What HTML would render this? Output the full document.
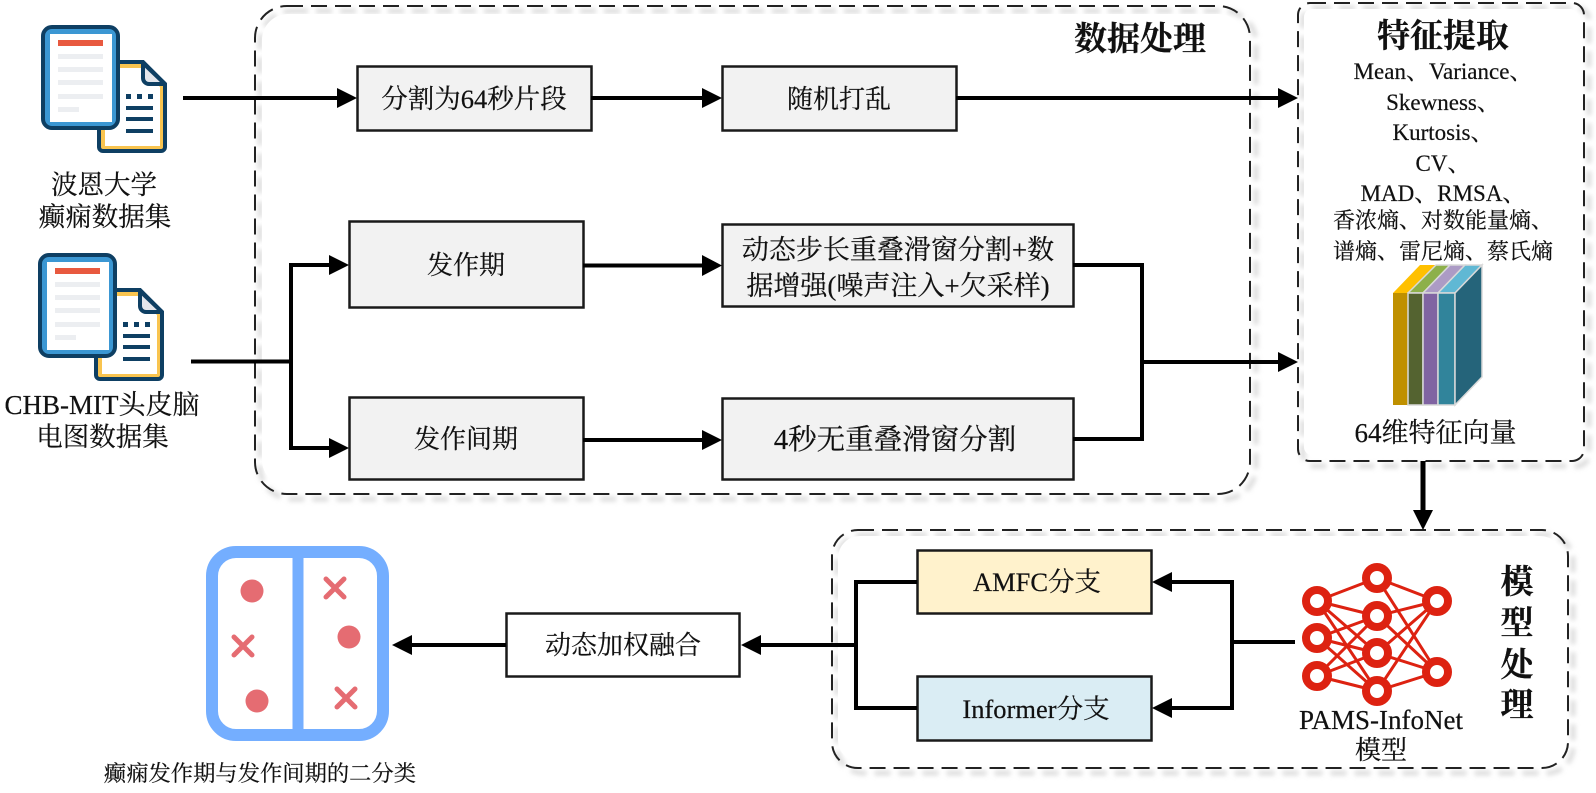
<!DOCTYPE html>
<html><head><meta charset="utf-8"><style>
html,body{margin:0;padding:0;background:#fff;width:1596px;height:793px;overflow:hidden}
svg{display:block}
text{font-family:"Liberation Serif","Noto Serif CJK SC",serif;fill:#111;stroke:#111;stroke-width:.2;text-anchor:middle;font-size:26px}
.h{font-size:33px;font-weight:700}
.f{font-size:22px}
.fl{font-size:23px}
.b{stroke:#1a1a1a;stroke-width:2.500}
.l{fill:none;stroke:#000;stroke-width:4}
.d{fill:none;stroke:#222;stroke-width:2;stroke-dasharray:16 8}
.s{fill:none;stroke:#bbb;stroke-width:5;stroke-dasharray:16 8;filter:url(#bl);opacity:.5}
</style></head><body>
<svg width="1596" height="793" viewBox="0 0 1596 793" xmlns="http://www.w3.org/2000/svg">
<defs>
<filter id="bl"><feGaussianBlur stdDeviation="2.5"/></filter>
<g id="doc">
<path d="M103 62H143L165 84V147a4 4 0 0 1-4 4H103a4 4 0 0 1-4-4V67a4 4 0 0 1 4-4Z" fill="#f9c44f" stroke="#0e3f63" stroke-width="4"/>
<path d="M105 68H141L160 87V146H105Z" fill="#fff"/>
<path d="M143 63V78a6 6 0 0 0 6 6H165Z" fill="#e3e6ec" stroke="#0e3f63" stroke-width="4" stroke-linejoin="round"/>
<rect x="126" y="94" width="5" height="5" fill="#0e3f63"/><rect x="137" y="94" width="5" height="5" fill="#0e3f63"/><rect x="148" y="94" width="5" height="5" fill="#0e3f63"/>
<rect x="126" y="106" width="27" height="4" fill="#0e3f63"/><rect x="126" y="117" width="27" height="4" fill="#0e3f63"/><rect x="126" y="129" width="27" height="4" fill="#0e3f63"/>
<rect x="43" y="27" width="75" height="101" rx="9" fill="#3b97d3" stroke="#0e3f63" stroke-width="4"/>
<rect x="50" y="34" width="62" height="88" fill="#fff"/>
<rect x="58" y="40" width="45" height="6" fill="#e8593f"/>
<rect x="58" y="54" width="45" height="5" fill="#eceef1"/><rect x="58" y="67" width="45" height="5" fill="#eceef1"/><rect x="58" y="80" width="45" height="5" fill="#eceef1"/><rect x="58" y="94" width="45" height="5" fill="#eceef1"/><rect x="58" y="107" width="21" height="5" fill="#eceef1"/>
</g>
</defs>

<!-- dashed shadows -->
<rect class="s" x="260" y="11" width="996" height="488" rx="32"/>
<rect class="s" x="1303" y="8" width="286" height="458" rx="12"/>
<rect class="s" x="837" y="535" width="736" height="238" rx="26"/>
<rect fill="#fff" x="262" y="14" width="982" height="472" rx="26"/>
<rect fill="#fff" x="1304" y="9" width="274" height="446" rx="8"/>
<rect fill="#fff" x="838" y="536" width="724" height="226" rx="22"/>
<rect class="d" x="255" y="6" width="995" height="488" rx="32"/>
<rect class="d" x="1298" y="3" width="286" height="458" rx="12"/>
<rect class="d" x="832" y="530" width="736" height="238" rx="26"/>

<use href="#doc"/>
<use href="#doc" transform="translate(-3 228)"/>
<text x="104" y="194" style="font-size:26.500px">波恩大学</text>
<text x="105" y="226" style="font-size:26.500px">癫痫数据集</text>
<text x="102" y="414" style="font-size:27px">CHB-MIT头皮脑</text>
<text x="102.500" y="446" style="font-size:26.500px">电图数据集</text>

<!-- boxes -->
<g class="b">
<rect x="357.500" y="66.500" width="234" height="64" fill="#f2f2f2"/>
<rect x="722.500" y="66.500" width="234" height="64" fill="#f2f2f2"/>
<rect x="349.500" y="221.500" width="234" height="86" fill="#f2f2f2"/>
<rect x="722.500" y="224.500" width="351" height="82" fill="#f2f2f2"/>
<rect x="349.500" y="397.500" width="234" height="82" fill="#f2f2f2"/>
<rect x="722.500" y="398.500" width="351" height="81" fill="#f2f2f2"/>
<rect x="917.500" y="550.500" width="234" height="63" fill="#fff2cc"/>
<rect x="917.500" y="676.500" width="234" height="64" fill="#daedf4"/>
<rect x="506.500" y="613.500" width="233" height="63" fill="#fff"/>
</g>
<text x="474" y="108" style="font-size:26.500px">分割为64秒片段</text>
<text x="839" y="108">随机打乱</text>
<text x="466" y="274">发作期</text>
<text x="898" y="259" style="font-size:27px">动态步长重叠滑窗分割+数</text>
<text x="898" y="295" style="font-size:27px">据增强(噪声注入+欠采样)</text>
<text x="466" y="448">发作间期</text>
<text x="895" y="449" style="font-size:28.500px">4秒无重叠滑窗分割</text>
<text x="1037" y="591" style="font-size:26.500px">AMFC分支</text>
<text x="1036" y="718" style="font-size:26.500px">Informer分支</text>
<text x="623" y="654">动态加权融合</text>

<!-- connectors -->
<g class="l">
<path d="M183 98H340M591 98H705M956 98H1280"/>
<path d="M191 361.500H291M330 265H291V448H330"/>
<path d="M583 265.500H705M583 440H705"/>
<path d="M1073 265H1142V439H1073M1142 362H1280"/>
<path d="M1423 461V512" stroke-width="5"/>
<path d="M1295 642H1232V582H1170M1232 642V708H1170"/>
<path d="M917 582H856V708H917M856 645H760"/>
<path d="M506 645H410"/>
</g>
<g fill="#000">
<path d="M337 88L357 98L337 108Z"/><path d="M702 88L722 98L702 108Z"/><path d="M1278 88L1298 98L1278 108Z"/>
<path d="M329 255L349 265L329 275Z"/><path d="M329 438L349 448L329 458Z"/>
<path d="M702 255L722 265.500L702 276Z"/><path d="M702 430L722 440L702 450Z"/>
<path d="M1278 352L1298 362L1278 372Z"/>
<path d="M1413 510L1423 530L1433 510Z"/>
<path d="M1172 572L1152 582L1172 592Z"/><path d="M1172 698L1152 708L1172 718Z"/>
<path d="M761 635L741 645L761 655Z"/><path d="M412 635L392 645L412 655Z"/>
</g>

<!-- headings -->
<text class="h" x="1140" y="50">数据处理</text>
<text class="h" x="1443" y="47">特征提取</text>
<text class="h" x="1517" y="593">模</text>
<text class="h" x="1517" y="634">型</text>
<text class="h" x="1517" y="676">处</text>
<text class="h" x="1517" y="716">理</text>

<!-- feature list -->
<text class="fl" x="1443" y="79">Mean、Variance、</text>
<text class="fl" x="1443" y="110">Skewness、</text>
<text class="fl" x="1443" y="140">Kurtosis、</text>
<text class="fl" x="1443" y="171">CV、</text>
<text class="fl" x="1443" y="201">MAD、RMSA、</text>
<text class="f" x="1443" y="228">香浓熵、对数能量熵、</text>
<text class="f" x="1443" y="259">谱熵、雷尼熵、蔡氏熵</text>

<!-- cube -->
<g stroke="#d9d9d9" stroke-width="1.500">
<path d="M1393 293L1420 265H1436L1408 293Z" fill="#ffc000" stroke="none"/>
<path d="M1408 293L1436 265H1450L1423 293Z" fill="#8db04a"/>
<path d="M1423 293L1450 265H1465L1438 293Z" fill="#ac9bc5"/>
<path d="M1438 293L1465 265H1482L1455 293Z" fill="#60b8d4"/>
<rect x="1393" y="293" width="15" height="112" fill="#bf9000" stroke="none"/>
<rect x="1408" y="293" width="15" height="112" fill="#546330"/>
<rect x="1423" y="293" width="15" height="112" fill="#8064a2"/>
<rect x="1438" y="293" width="17" height="112" fill="#31849b"/>
<path d="M1455 293L1482 265V377L1455 405Z" fill="#25647a"/>
</g>
<text x="1435.500" y="442" style="font-size:27px">64维特征向量</text>

<!-- neural net -->
<g stroke="#dd2211" stroke-width="3" fill="none">
<path d="M1317 601L1377 578M1317 601L1377 616M1317 601L1377 653M1317 601L1377 691M1317 638L1377 616M1317 638L1377 653M1317 638L1377 691M1317 676L1377 616M1317 676L1377 653M1317 676L1377 691"/>
<path d="M1377 578L1437 601M1377 578L1437 672M1377 616L1437 601M1377 616L1437 672M1377 653L1437 601M1377 653L1437 672M1377 691L1437 601M1377 691L1437 672"/>
</g>
<g stroke="#dd2211" stroke-width="8" fill="#fff">
<circle cx="1317" cy="601" r="11"/><circle cx="1317" cy="638" r="11"/><circle cx="1317" cy="676" r="11"/>
<circle cx="1377" cy="578" r="11"/><circle cx="1377" cy="616" r="11"/><circle cx="1377" cy="653" r="11"/><circle cx="1377" cy="691" r="11"/>
<circle cx="1437" cy="601" r="11"/><circle cx="1437" cy="672" r="11"/>
</g>
<text x="1381" y="729" style="font-size:27px">PAMS-InfoNet</text>
<text x="1381" y="759">模型</text>

<!-- result icon -->
<rect x="212" y="552" width="171" height="183" rx="24" fill="#fff" stroke="#74aeff" stroke-width="12"/>
<rect x="292.500" y="556" width="11" height="176" fill="#74aeff"/>
<g fill="#e56c72">
<circle cx="252" cy="591" r="11.500"/><circle cx="349" cy="637" r="11.500"/><circle cx="257" cy="701" r="11.500"/>
</g>
<g stroke="#e56c72" stroke-width="5" stroke-linecap="round">
<path d="M326 579L344 597M344 579L326 597"/>
<path d="M234 637L252 655M252 637L234 655"/>
<path d="M337 689L355 707M355 689L337 707"/>
</g>
<text x="260" y="781" style="font-size:22.300px">癫痫发作期与发作间期的二分类</text>
</svg>
</body></html>
